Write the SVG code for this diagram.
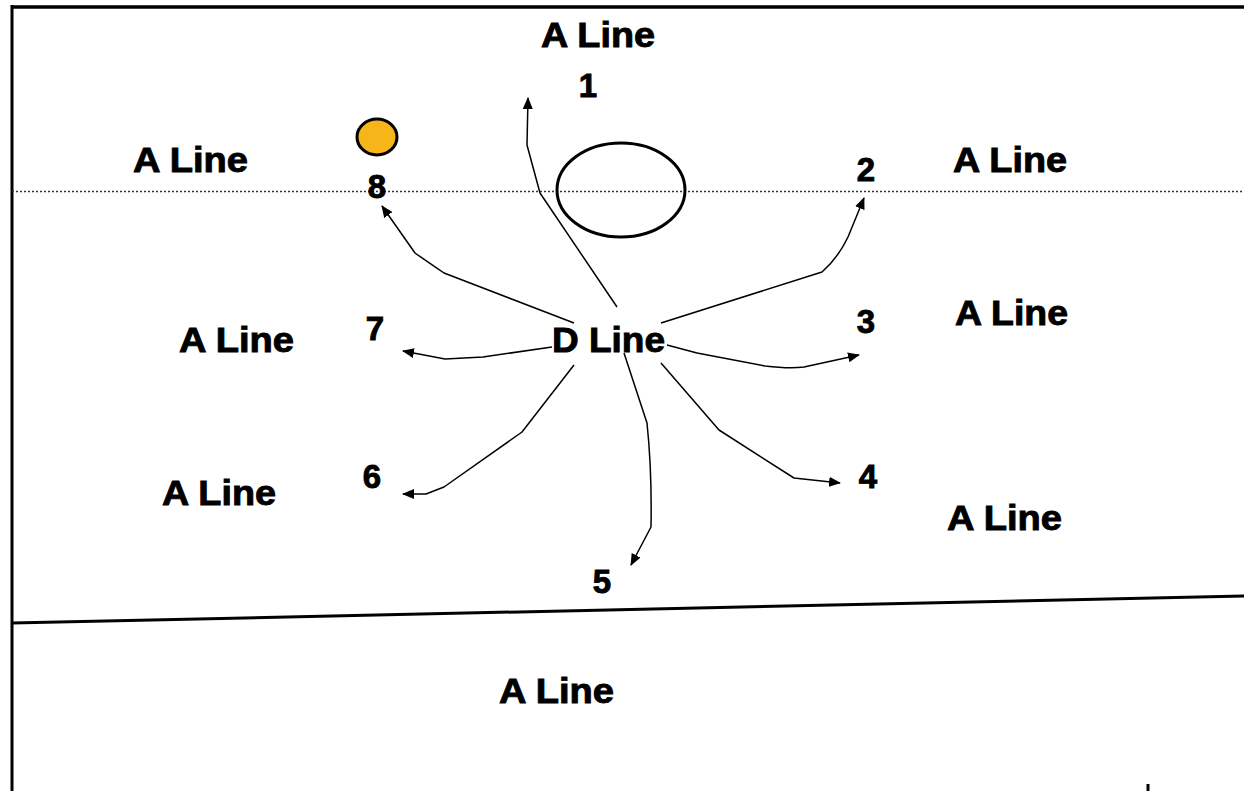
<svg xmlns="http://www.w3.org/2000/svg" width="1244" height="791" viewBox="0 0 1244 791">
<style>
.lbl{font-family:"Liberation Sans",Arial,sans-serif;font-weight:bold;font-size:35px;fill:#000;stroke:#000;stroke-width:0.9}
.num{font-family:"Liberation Sans",Arial,sans-serif;font-weight:bold;font-size:33px;fill:#000;stroke:#000;stroke-width:0.9;text-anchor:middle}
.run{fill:none;stroke:#000;stroke-width:1.5;stroke-linejoin:round;marker-end:url(#ah)}
</style>
<defs>
<marker id="ah" viewBox="0 0 12 10" refX="11" refY="5" markerWidth="12" markerHeight="10" markerUnits="userSpaceOnUse" orient="auto">
<path d="M0,0 L12,5 L0,10 Z" fill="#000"/>
</marker>
</defs>
<rect width="1244" height="791" fill="#fff"/>
<g id="field">
<line x1="12" y1="7" x2="1244" y2="7" stroke="#000" stroke-width="3.5"/>
<line x1="12" y1="5" x2="12" y2="791" stroke="#000" stroke-width="3"/>
<line x1="12" y1="191.5" x2="1244" y2="191.5" stroke="#333" stroke-width="1.5" stroke-dasharray="2,2"/>
<line x1="12" y1="623" x2="1244" y2="596" stroke="#000" stroke-width="3"/>
<line x1="1148" y1="784" x2="1148" y2="791" stroke="#000" stroke-width="3"/>
</g>
<g id="ball"><ellipse cx="377" cy="137" rx="20" ry="18" fill="#F6B519" stroke="#000" stroke-width="3"/></g>
<g id="ring"><ellipse cx="621" cy="190" rx="64" ry="47" fill="none" stroke="#000" stroke-width="3"/></g>
<g id="connectors">
<path id="r1" class="run" d="M617,307 L540,193 L527,145 L528,98"/>
<path id="r2" class="run" d="M661,323 L822,272 Q838,258 848,237 L864,198"/>
<path id="r3" class="run" d="M667,345 L697,353 L765,366 Q790,369 804,367 L859,355"/>
<path id="r4" class="run" d="M661,363 L719,430 L794,478 L840,483"/>
<path id="r5" class="run" d="M624,353 L647,423 Q652,470 651,527 L631,565"/>
<path id="r6" class="run" d="M574,365 L522,432 L444,487 L426,494 L403,494"/>
<path id="r7" class="run" d="M552,347 L483,357 L445,359 L403,351"/>
<path id="r8" class="run" d="M574,323 L444,273 Q425,260 415,253 L382,206"/>
</g>
<g id="dline"><text class="lbl" x="552" y="352" textLength="113" lengthAdjust="spacingAndGlyphs">D Line</text></g>
<g id="aline-top"><text class="lbl" x="541" y="47" textLength="114" lengthAdjust="spacingAndGlyphs">A Line</text></g>
<g id="aline-lt"><text class="lbl" x="133" y="172" textLength="115" lengthAdjust="spacingAndGlyphs">A Line</text></g>
<g id="aline-rt"><text class="lbl" x="953" y="172" textLength="114" lengthAdjust="spacingAndGlyphs">A Line</text></g>
<g id="aline-lm"><text class="lbl" x="179" y="352" textLength="115" lengthAdjust="spacingAndGlyphs">A Line</text></g>
<g id="aline-rm"><text class="lbl" x="955" y="325" textLength="113" lengthAdjust="spacingAndGlyphs">A Line</text></g>
<g id="aline-ll"><text class="lbl" x="162" y="505" textLength="114" lengthAdjust="spacingAndGlyphs">A Line</text></g>
<g id="aline-rl"><text class="lbl" x="947" y="530" textLength="115" lengthAdjust="spacingAndGlyphs">A Line</text></g>
<g id="aline-bot"><text class="lbl" x="499" y="703" textLength="115" lengthAdjust="spacingAndGlyphs">A Line</text></g>
<g id="n1"><text class="num" x="588" y="97">1</text></g>
<g id="n2"><text class="num" x="866" y="181">2</text></g>
<g id="n3"><text class="num" x="866" y="333">3</text></g>
<g id="n4"><text class="num" x="868" y="488">4</text></g>
<g id="n5"><text class="num" x="602" y="593">5</text></g>
<g id="n6"><text class="num" x="372" y="488">6</text></g>
<g id="n7"><text class="num" x="375" y="340">7</text></g>
<g id="n8"><text class="num" x="377" y="198">8</text></g>
</svg>
